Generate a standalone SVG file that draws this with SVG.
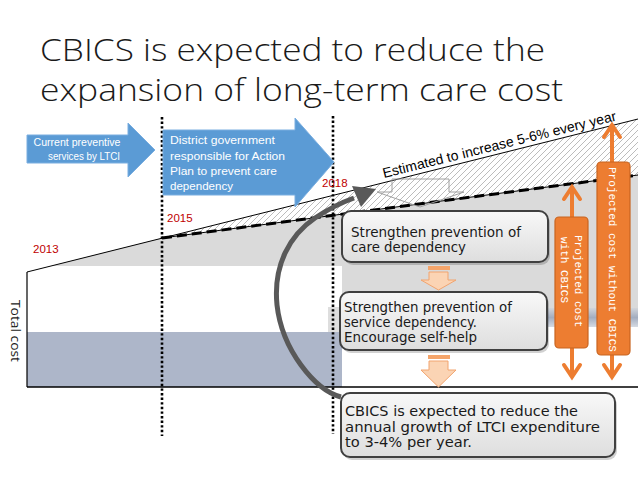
<svg xmlns="http://www.w3.org/2000/svg" width="638" height="479" viewBox="0 0 638 479">
<style>
.title{font-family:"Open Sans","Liberation Sans",sans-serif;font-weight:300;font-size:31px;fill:#1a1a1a}
.yr{font-family:"Liberation Sans",Arial,sans-serif;font-size:11.5px;fill:#c00000}
.wt{font-family:"Liberation Sans",Arial,sans-serif;fill:#ffffff}
.bx{fill:url(#boxg);stroke:#404040;stroke-width:2}
.shd{fill:#000;opacity:0.18}
.bt{font-family:"DejaVu Sans","Liberation Sans",sans-serif;font-size:13.5px;fill:#1a1a1a}
.mono{font-family:"Liberation Mono","DejaVu Sans Mono",monospace;font-size:11px;fill:#ffffff}
.bar{fill:#ed7d31;stroke:#c86420;stroke-width:1.2}
.oar{fill:none;stroke:#ed7d31;stroke-width:4;stroke-linecap:round;stroke-linejoin:miter}
.dot{stroke:#000;stroke-width:2.6;stroke-dasharray:2.4 2.2;fill:none}
.pdn{fill:#fbd4b4;stroke:#f2a46e;stroke-width:1}
.pbar{fill:#f4a46a}
</style>
<defs>
<pattern id="hatch" patternUnits="userSpaceOnUse" width="6" height="6">
<rect width="6" height="6" fill="#ffffff"/>
<path d="M0,6 L6,0 M-1,1 L1,-1 M5,7 L7,5" stroke="#ababab" stroke-width="0.8"/>
</pattern>
<linearGradient id="boxg" x1="0" y1="0" x2="0" y2="1">
<stop offset="0" stop-color="#f8f8f8"/>
<stop offset="1" stop-color="#dedede"/>
</linearGradient>
<linearGradient id="band" x1="0" y1="0" x2="0" y2="1">
<stop offset="0" stop-color="#d2d5da"/>
<stop offset="0.5" stop-color="#a3adbf"/>
<stop offset="1" stop-color="#d6dbe3"/>
</linearGradient>
</defs>
<rect width="638" height="479" fill="#ffffff"/>
<g id="title">
<text class="title" x="40" y="61" textLength="505" lengthAdjust="spacingAndGlyphs">CBICS is expected to reduce the</text>
<text class="title" x="40" y="101" textLength="523" lengthAdjust="spacingAndGlyphs">expansion of long-term care cost</text>
</g>
<g id="chart">
<polygon points="51,266 162,238 638,175 638,308 342,308 342,266" fill="#dadada"/>
<polygon points="162,238 638,119 638,175" fill="url(#hatch)"/>
<rect x="27" y="332" width="315" height="55" fill="#adb6c9"/>
<rect x="328" y="307" width="14" height="25" fill="#dedede"/>
<rect x="342" y="308" width="296" height="19" fill="url(#band)"/>
<line x1="27" y1="272" x2="638" y2="119" stroke="#000" stroke-width="1"/>
<line x1="162" y1="238" x2="638" y2="175" stroke="#000" stroke-width="1"/>
<line x1="162" y1="238" x2="638" y2="175" stroke="#000" stroke-width="3" stroke-dasharray="10 5"/>
<line x1="27" y1="272" x2="27" y2="387" stroke="#000" stroke-width="1.2"/>
<line x1="27" y1="387" x2="638" y2="387" stroke="#000" stroke-width="1.3"/>
<line class="dot" x1="162" y1="117" x2="162" y2="436"/>
<line class="dot" x1="333" y1="116" x2="333" y2="434"/>
<polygon points="392,179 449,179 449,192 464,192 420,207 377,192 392,192" fill="none" stroke="#a0a0a0" stroke-width="1"/>
<text class="yr" x="33" y="253">2013</text>
<text class="yr" x="167" y="222">2015</text>
<text class="yr" x="322" y="187">2018</text>
<text transform="translate(384,178) rotate(-13.9)" font-family="Liberation Sans, Arial, sans-serif" font-size="14" fill="#000" textLength="240" lengthAdjust="spacingAndGlyphs">Estimated to increase 5-6% every year</text>
<text transform="translate(11,300) rotate(90)" font-family="Open Sans, Liberation Sans, sans-serif" font-size="13" fill="#1a1a1a" textLength="62" lengthAdjust="spacingAndGlyphs">Total cost</text>
</g>
<g id="arrow-current">
<polygon points="27,135 128,135 128,123 155,150 128,177 128,163 27,163" fill="#5b9bd5" stroke="#7aaee0" stroke-width="1"/>
<text class="wt" x="77" y="145.5" font-size="10" text-anchor="middle" textLength="87" lengthAdjust="spacingAndGlyphs">Current preventive</text>
<text class="wt" x="84" y="160" font-size="10" text-anchor="middle" textLength="72" lengthAdjust="spacingAndGlyphs">services by LTCI</text>
</g>
<g id="arrow-district">
<polygon points="163,130 295,130 295,118 334,162 295,207 295,195 163,195" fill="#5b9bd5" stroke="#7aaee0" stroke-width="1"/>
<text class="wt" x="170" y="144" font-size="11.5" textLength="105" lengthAdjust="spacingAndGlyphs">District government</text>
<text class="wt" x="170" y="160" font-size="11.5" textLength="115" lengthAdjust="spacingAndGlyphs">responsible for Action</text>
<text class="wt" x="170" y="175" font-size="11.5" textLength="107" lengthAdjust="spacingAndGlyphs">Plan to prevent care</text>
<text class="wt" x="170" y="190" font-size="11.5" textLength="63" lengthAdjust="spacingAndGlyphs">dependency</text>
</g>
<g id="box-care">
<rect class="shd" x="344" y="214" width="206" height="51" rx="9"/>
<rect class="bx" x="342" y="211" width="206" height="51" rx="9"/>
<text class="bt" x="351" y="237" textLength="170" lengthAdjust="spacingAndGlyphs">Strengthen prevention of</text>
<text class="bt" x="351" y="252" textLength="115" lengthAdjust="spacingAndGlyphs">care dependency</text>
</g>
<g id="down-1">
<rect class="pbar" x="428" y="266" width="22" height="4"/>
<polygon class="pdn" points="429,272 448,272 448,280 456,280 438.5,290 421,280 429,280"/>
</g>
<g id="box-service">
<rect class="shd" x="342" y="295" width="207" height="58" rx="9"/>
<rect class="bx" x="340" y="292" width="207" height="58" rx="9"/>
<text class="bt" x="344" y="312" textLength="168" lengthAdjust="spacingAndGlyphs">Strengthen prevention of</text>
<text class="bt" x="344" y="327" textLength="133" lengthAdjust="spacingAndGlyphs">service dependency.</text>
<text class="bt" x="344" y="342" textLength="133" lengthAdjust="spacingAndGlyphs">Encourage self-help</text>
</g>
<g id="down-2">
<rect class="pbar" x="428" y="355" width="22" height="4"/>
<polygon class="pdn" points="429,361 448,361 448,370 456,370 438.5,387 421,370 429,370"/>
</g>
<g id="box-result">
<rect class="shd" x="343" y="396" width="274" height="64" rx="9"/>
<rect class="bx" x="341" y="393" width="274" height="64" rx="9"/>
<text class="bt" x="345" y="416" textLength="233" lengthAdjust="spacingAndGlyphs">CBICS is expected to reduce the</text>
<text class="bt" x="345" y="431.5" textLength="255" lengthAdjust="spacingAndGlyphs">annual growth of LTCI expenditure</text>
<text class="bt" x="345" y="447" textLength="127" lengthAdjust="spacingAndGlyphs">to 3-4% per year.</text>
</g>
<g id="bar-with">
<line class="oar" x1="572" y1="217" x2="572" y2="188"/>
<polyline class="oar" points="564,199 572,187 580,199"/>
<line class="oar" x1="572" y1="348" x2="572" y2="375"/>
<polyline class="oar" points="564,365 572,377 580,365"/>
<rect class="bar" x="555" y="217" width="33" height="131" rx="4"/>
<text class="mono" transform="translate(575,235) rotate(90)">Projected cost</text>
<text class="mono" transform="translate(561,237) rotate(90)">with CBICS</text>
</g>
<g id="bar-without">
<line class="oar" x1="612" y1="162" x2="612" y2="126"/>
<polyline class="oar" points="604,137 612,125 620,137"/>
<line class="oar" x1="612" y1="355" x2="612" y2="375"/>
<polyline class="oar" points="604,365 612,377 620,365"/>
<rect class="bar" x="597" y="162" width="33" height="193" rx="4"/>
<text class="mono" transform="translate(609,167) rotate(90)">Projected cost without CBICS</text>
</g>
<g id="connectors">
<path d="M341,397 C315,390 282,350 277,305 C273,265 290,235 315,218 C327,210 340,203 354,198" fill="none" stroke="#595959" stroke-width="5"/>
<polygon points="352,186 376,189 361,207" fill="#595959"/>
</g>
</svg>
